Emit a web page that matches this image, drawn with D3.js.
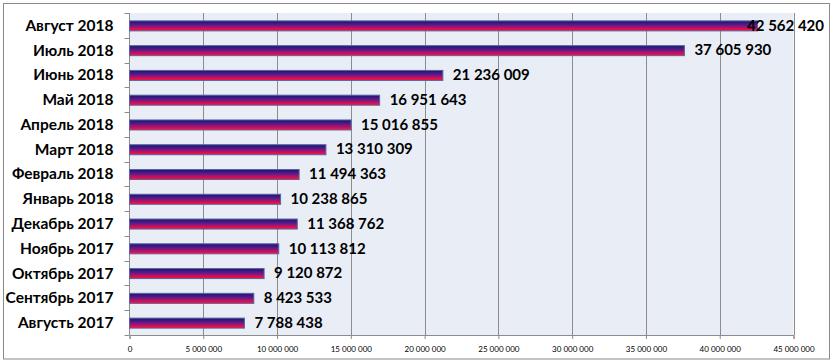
<!DOCTYPE html>
<html><head><meta charset="utf-8">
<script src="https://cdn.jsdelivr.net/npm/d3@7"></script>
<style>
html,body{margin:0;padding:0;background:#fff;}
svg{display:block;}
</style></head>
<body>
<svg id="chart" width="833" height="364"></svg>
<script>
const categories = ["Август 2018","Июль 2018","Июнь 2018","Май 2018","Апрель 2018","Март 2018","Февраль 2018","Январь 2018","Декабрь 2017","Ноябрь 2017","Октябрь 2017","Сентябрь 2017","Августь 2017"];
const values = [42562420,37605930,21236009,16951643,15016855,13310309,11494363,10238865,11368762,10113812,9120872,8423533,7788438];
const labels = ["42 562 420","37 605 930","21 236 009","16 951 643","15 016 855","13 310 309","11 494 363","10 238 865","11 368 762","10 113 812","9 120 872","8 423 533","7 788 438"];
const tickValues = [0,5000000,10000000,15000000,20000000,25000000,30000000,35000000,40000000,45000000];
const tickLabels = ["0","5 000 000","10 000 000","15 000 000","20 000 000","25 000 000","30 000 000","35 000 000","40 000 000","45 000 000"];

const svg = d3.select("#chart");
const W = 833, H = 364;
const m = {left:129.5, right:39.5, top:13, bottom:29};
const pw = W - m.left - m.right, ph = H - m.top - m.bottom;

svg.append("rect").attr("x",3.5).attr("y",3.5).attr("width",826).attr("height",355.5)
  .attr("fill","#fff").attr("stroke","#8a8a8a").attr("stroke-width",1);

const defs = svg.append("defs");
const grad = defs.append("linearGradient").attr("id","barGrad").attr("x1",0).attr("y1",0).attr("x2",0).attr("y2",1);
grad.append("stop").attr("offset","0%").attr("stop-color","#16166e");
grad.append("stop").attr("offset","45%").attr("stop-color","#641a8c");
grad.append("stop").attr("offset","85%").attr("stop-color","#ea0e48");
grad.append("stop").attr("offset","100%").attr("stop-color","#ff1030");

const x = d3.scaleLinear().domain([0,45000000]).range([m.left, m.left+pw]);
const y = d3.scaleBand().domain(categories).range([m.top, m.top+ph]);

svg.append("rect").attr("x",m.left).attr("y",m.top).attr("width",pw).attr("height",ph).attr("fill","#e9edf6");

// gridlines
svg.append("g").selectAll("line").data(tickValues.slice(1)).join("line")
  .attr("x1",d=>Math.round(x(d))+0.5).attr("x2",d=>Math.round(x(d))+0.5)
  .attr("y1",m.top).attr("y2",m.top+ph)
  .attr("stroke","#8c8c8c").attr("stroke-width",1);

// x axis
const xAxis = d3.axisBottom(x).tickValues(tickValues).tickFormat((d,i)=>tickLabels[i]).tickSize(4).tickPadding(7);
const gx = svg.append("g").attr("transform",`translate(0,${m.top+ph})`).call(xAxis);
gx.select(".domain").attr("stroke","#8c8c8c");
gx.selectAll(".tick line").attr("stroke","#8c8c8c");
gx.selectAll("text").attr("font-family","Lato, 'Open Sans', sans-serif").attr("font-size","8px").attr("fill","#000");

// y axis
const gy = svg.append("g").attr("transform",`translate(${m.left},0)`);
gy.append("line").attr("x1",0).attr("x2",0).attr("y1",m.top).attr("y2",m.top+ph).attr("stroke","#8c8c8c");
const bounds = categories.map(c=>y(c)).concat([m.top+ph]);
gy.selectAll("line.tk").data(bounds).join("line").attr("class","tk")
  .attr("x1",-5).attr("x2",0).attr("y1",d=>Math.round(d)+0.5).attr("y2",d=>Math.round(d)+0.5).attr("stroke","#8c8c8c");
gy.selectAll("text").data(categories).join("text")
  .attr("x",-16).attr("y",d=>y(d)+y.bandwidth()/2).attr("dy","0.35em")
  .attr("text-anchor","end").attr("font-family","Lato, sans-serif").attr("font-weight","bold")
  .attr("font-size","15.5px").attr("fill","#000").text(d=>d);

// bars
const bh = 10;
svg.append("g").selectAll("rect").data(values).join("rect")
  .attr("x",x(0)).attr("y",(d,i)=>y(categories[i])+y.bandwidth()/2-bh/2+0.5)
  .attr("width",d=>x(d)-x(0)).attr("height",bh)
  .attr("fill","url(#barGrad)").attr("stroke","#5664a4").attr("stroke-width",1);

// value labels
const vl = svg.append("g").selectAll("text").data(values).join("text")
  .attr("y",(d,i)=>y(categories[i])+y.bandwidth()/2).attr("dy","0.35em")
  .attr("font-family","Lato, sans-serif").attr("font-weight","bold").attr("font-size","15px").attr("fill","#000")
  .text((d,i)=>labels[i]);
vl.each(function(d){
  const w = this.getComputedTextLength();
  let xx = x(d)+10;
  if (xx + w > 824) xx = 824 - w;
  d3.select(this).attr("x",xx);
});
</script>
</body></html>
